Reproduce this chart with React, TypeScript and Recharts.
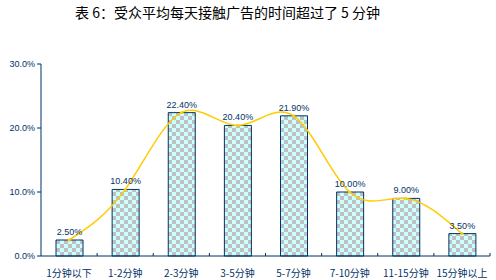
import { ComposedChart, Bar, Line, XAxis, YAxis, LabelList } from 'recharts';

const title = '表 6：受众平均每天接触广告的时间超过了 5 分钟';
const categories = ['1分钟以下', '1-2分钟', '2-3分钟', '3-5分钟', '5-7分钟', '7-10分钟', '11-15分钟', '15分钟以上'];
const shares = [2.5, 10.4, 22.4, 20.4, 21.9, 10.0, 9.0, 3.5];
const yTicks = [0, 10, 20, 30];

const data = categories.map((name, i) => ({ name, share: shares[i] }));

const NAVY = '#003366';

const CategoryTick = (props: any) => {
  const { x, y, payload } = props;
  const half = payload && payload.offset ? payload.offset : 28;
  return (
    <g>
      <line x1={x + half} x2={x + half} y1={y} y2={y - 3} stroke={NAVY} />
      <text
        x={x}
        y={y + 21}
        textAnchor="middle"
        fill={NAVY}
        fontSize={10}
        fontFamily="'Noto Sans CJK SC', sans-serif"
      >
        {payload.value}
      </text>
    </g>
  );
};

export default function App() {
  return (
    <div style={{ position: 'absolute', left: 0, top: 0, width: 496, height: 280, background: '#fff' }}>
      <div
        style={{
          position: 'absolute',
          left: 75,
          top: 2,
          fontSize: 14,
          lineHeight: '20px',
          fontFamily: "'Noto Sans CJK SC', sans-serif",
          color: '#000',
          whiteSpace: 'nowrap',
        }}
      >
        {title}
      </div>
      <ComposedChart width={496} height={280} data={data} margin={{ top: 64, right: 6, bottom: 0, left: 0 }}>
        <defs>
          <pattern id="checker" width="8" height="8" patternUnits="userSpaceOnUse">
            <rect width="8" height="8" fill="#ccffff" />
            <rect width="4" height="4" fill="#c0c0c0" />
            <rect x="4" y="4" width="4" height="4" fill="#c0c0c0" />
          </pattern>
        </defs>
        <XAxis
          dataKey="name"
          height={24}
          stroke={NAVY}
          tickLine={false}
          tickSize={0}
          tickMargin={0}
          interval={0}
          tick={<CategoryTick />}
        />
        <YAxis
          width={41}
          domain={[0, 30]}
          ticks={yTicks}
          tickFormatter={(v: number) => v.toFixed(1) + '%'}
          stroke={NAVY}
          tickSize={4}
          tick={{ fill: NAVY, fontSize: 9, fontFamily: "'Liberation Sans', sans-serif" }}
        />
        <Bar dataKey="share" barSize={27} fill="url(#checker)" stroke={NAVY} strokeWidth={1} isAnimationActive={false}>
          <LabelList
            dataKey="share"
            position="top"
            offset={5}
            formatter={(v: any) => Number(v).toFixed(2) + '%'}
            fill={NAVY}
            fontSize={9}
            fontFamily="'Liberation Sans', sans-serif"
          />
        </Bar>
        <Line
          type="natural"
          dataKey="share"
          stroke="#ffcc00"
          strokeWidth={1.5}
          dot={{ r: 1.5, fill: '#ffcc00', stroke: 'none' }}
          activeDot={false}
          isAnimationActive={false}
        />
      </ComposedChart>
    </div>
  );
}
